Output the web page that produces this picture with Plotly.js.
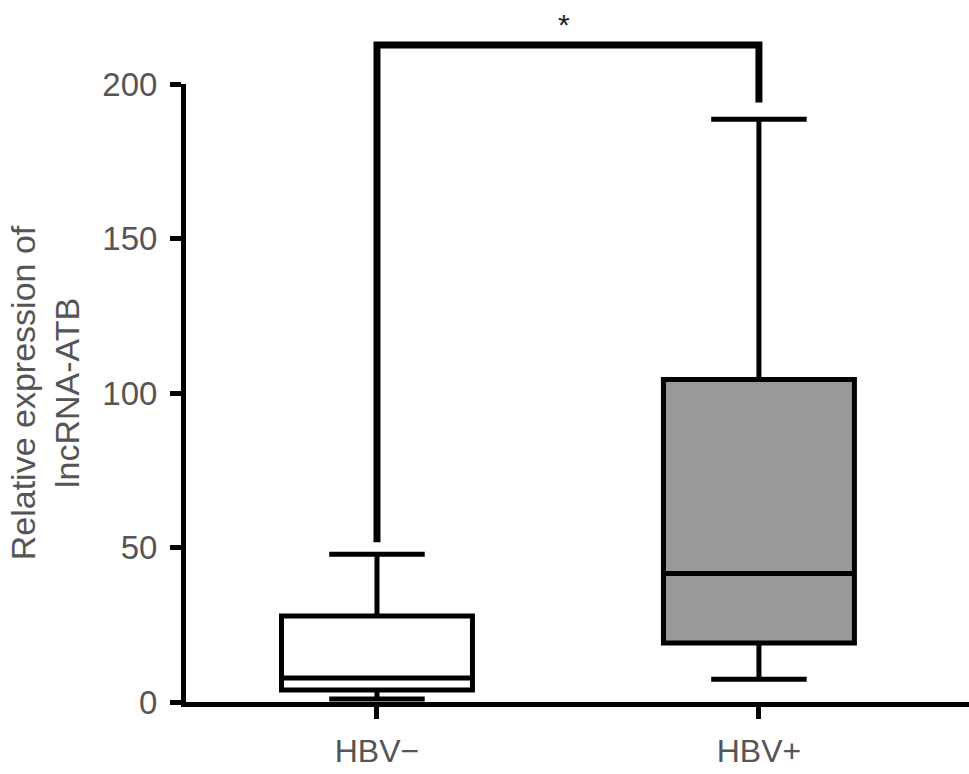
<!DOCTYPE html>
<html>
<head>
<meta charset="utf-8">
<script src="https://cdn.plot.ly/plotly-3.0.1.min.js"></script>
<style>html,body{margin:0;padding:0;background:#fff;}#chart{width:969px;height:774px;}</style>
</head>
<body>
<div id="chart"></div>
<script>
// Data
const categories = ['HBV\u2212', 'HBV+'];
const lowerWhisker = [1.0, 7.4];
const q1Values = [3.9, 19.1];
const medianValues = [7.8, 41.6];
const q3Values = [27.8, 104.4];
const upperWhisker = [47.8, 188.6];
const fillColors = ['#ffffff', '#999999'];
const yTickValues = [0, 50, 100, 150, 200];
const yRange = [0, 200];
// significance bracket (data units): left foot, top, right foot
const bracketLeftFoot = 51.7;
const bracketTop = 212.6;
const bracketRightFoot = 194.0;
const significanceLabel = '*';

const FONT = 'Liberation Sans, Arial, Helvetica, sans-serif';
const toPaper = v => (v - yRange[0]) / (yRange[1] - yRange[0]);

const traces = categories.map((c, i) => ({
  type: 'box',
  x: [c],
  q1: [q1Values[i]],
  median: [medianValues[i]],
  q3: [q3Values[i]],
  lowerfence: [lowerWhisker[i]],
  upperfence: [upperWhisker[i]],
  fillcolor: fillColors[i],
  line: {color: '#000000', width: 5},
  width: 0.5,
  whiskerwidth: 0.5,
  boxpoints: false,
  hoverinfo: 'skip',
  showlegend: false
}));

const layout = {
  width: 969,
  height: 774,
  margin: {l: 186, r: 0, t: 84, b: 72},
  paper_bgcolor: '#ffffff',
  plot_bgcolor: '#ffffff',
  showlegend: false,
  xaxis: {
    type: 'category',
    categoryorder: 'array',
    categoryarray: categories,
    range: [-0.5, 1.55],
    showgrid: false,
    zeroline: false,
    showline: true,
    linecolor: '#000000',
    linewidth: 5,
    ticks: 'outside',
    ticklen: 12,
    tickwidth: 5,
    tickcolor: '#000000',
    ticklabelstandoff: 5,
    tickfont: {family: FONT, size: 32, color: '#555555'}
  },
  yaxis: {
    range: yRange,
    tickvals: yTickValues,
    ticktext: yTickValues.map(String),
    showgrid: false,
    zeroline: false,
    showline: true,
    linecolor: '#000000',
    linewidth: 5,
    ticks: 'outside',
    ticklen: 11,
    tickwidth: 5,
    tickcolor: '#000000',
    ticklabelstandoff: 6,
    tickfont: {family: FONT, size: 33, color: '#555555'},
    title: {
      text: 'Relative expression of<br>lncRNA-ATB',
      font: {family: FONT, size: 34, color: '#555555'},
      standoff: 14
    }
  },
  shapes: [{
    type: 'path',
    xref: 'x',
    yref: 'paper',
    path: 'M 0,' + toPaper(bracketLeftFoot) + ' L 0,' + toPaper(bracketTop) +
          ' L 1,' + toPaper(bracketTop) + ' L 1,' + toPaper(bracketRightFoot),
    line: {color: '#000000', width: 7},
    fillcolor: 'rgba(0,0,0,0)'
  }],
  annotations: [{
    xref: 'x',
    yref: 'paper',
    x: 0.49,
    y: toPaper(bracketTop) + 0.004,
    yanchor: 'bottom',
    text: significanceLabel,
    showarrow: false,
    font: {family: FONT, size: 30, color: '#222222'}
  }]
};

Plotly.newPlot('chart', traces, layout, {staticPlot: true, displayModeBar: false});
</script>
</body>
</html>
